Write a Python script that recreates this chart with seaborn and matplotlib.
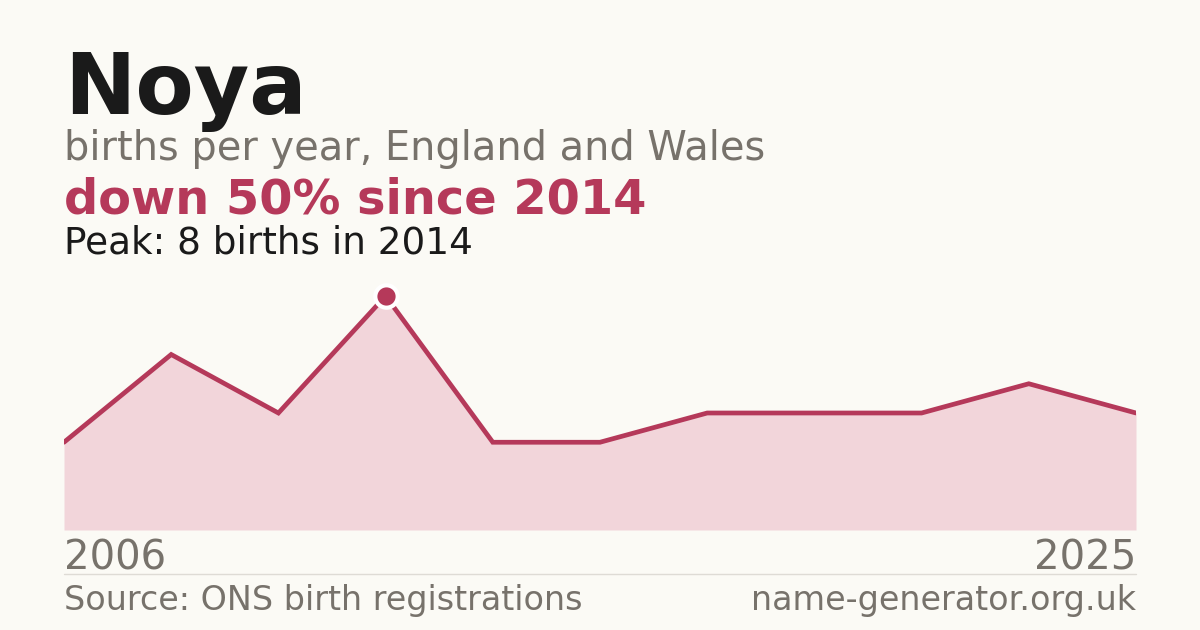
import matplotlib
matplotlib.use("Agg")
import matplotlib.pyplot as plt
import seaborn as sns
import pandas as pd

# data (only years with registrations are plotted, evenly spaced)
years = [2006, 2009, 2011, 2014, 2016, 2017, 2019, 2020, 2022, 2024, 2025]
births = [3, 6, 4, 8, 3, 3, 4, 4, 4, 5, 4]
peak_year = 2014
peak_value = 8

BG = "#fbfaf5"
RED = "#b5395a"
FILL = "#f2d5da"
DARK = "#1a1a1a"
GREY = "#77726b"

df = pd.DataFrame({"idx": range(len(years)), "year": years, "births": births})

sns.set_theme(style="white")
plt.rcParams["font.family"] = ["DejaVu Sans"]

fig = plt.figure(figsize=(12, 6.3), dpi=100, facecolor=BG)
W, H = 1200, 630
ax = fig.add_axes([64 / W, 1 - 530 / H, (1136 - 64) / W, (530 - 296) / H])
ax.set_facecolor(BG)
ax.patch.set_alpha(0)

ax.fill_between(df["idx"], df["births"], 0, color=FILL, linewidth=0, zorder=1)
sns.lineplot(data=df, x="idx", y="births", color=RED, linewidth=3.4, ax=ax,
             zorder=2, solid_joinstyle="miter")
pk = df[df["year"] == peak_year]
ax.scatter(pk["idx"], pk["births"], s=260, color=RED, edgecolor="white",
           linewidth=3, zorder=3, clip_on=False)

ax.set_xlim(0, len(years) - 1)
ax.set_ylim(0, peak_value)
ax.axis("off")

# header text
fig.text(64 / W, 1 - 114 / H, "Noya", fontsize=61.3, fontweight="bold", color=DARK, va="baseline")
fig.text(64 / W, 1 - 160 / H, "births per year, England and Wales", fontsize=28.7, color=GREY, va="baseline")
fig.text(64 / W, 1 - 214 / H, "down 50% since 2014", fontsize=34.5, fontweight="bold", color=RED, va="baseline")
fig.text(64 / W, 1 - 253 / H, f"Peak: {peak_value} births in {peak_year}", fontsize=26.9, color=DARK, va="baseline")

# axis end labels
fig.text(64 / W, 1 - 569 / H, str(years[0]), fontsize=28.9, color=GREY, va="baseline")
fig.text(1136 / W, 1 - 569 / H, str(years[-1]), fontsize=28.9, color=GREY, va="baseline", ha="right")

# divider and footer
fig.add_artist(plt.Line2D([64 / W, 1136 / W], [1 - 574 / H, 1 - 574 / H], color="#dedbd5", linewidth=1))
fig.text(64 / W, 1 - 610 / H, "Source: ONS birth registrations", fontsize=24, color=GREY, va="baseline")
fig.text(1136 / W, 1 - 610 / H, "name-generator.org.uk", fontsize=24, color=GREY, va="baseline", ha="right")

fig.savefig("out.png", dpi=100, facecolor=BG)
